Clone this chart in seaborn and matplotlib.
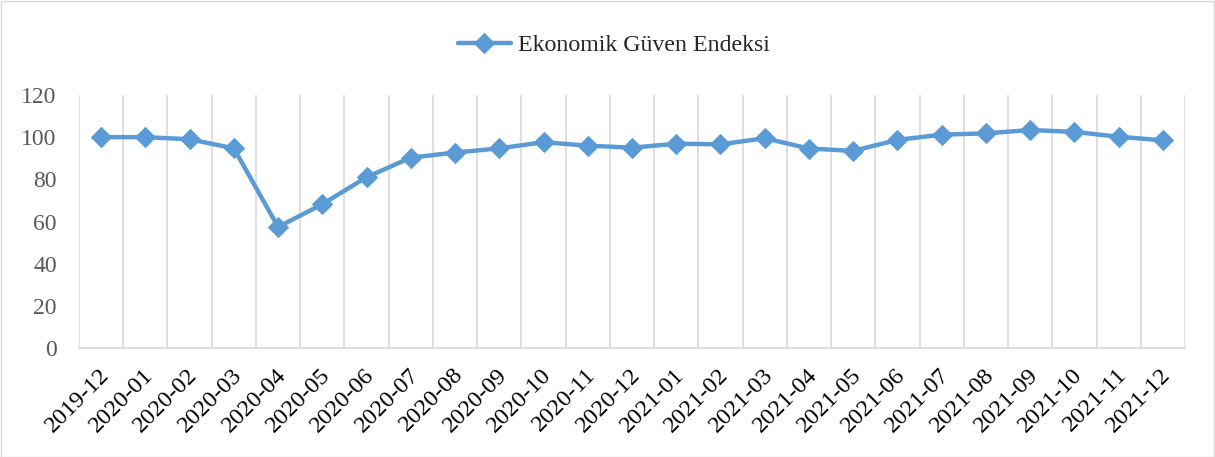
import matplotlib
matplotlib.use("Agg")
import matplotlib.pyplot as plt
from matplotlib.patches import Rectangle
from matplotlib.ticker import FixedLocator
import seaborn as sns
import pandas as pd

months = ["2019-12", "2020-01", "2020-02", "2020-03", "2020-04", "2020-05", "2020-06",
          "2020-07", "2020-08", "2020-09", "2020-10", "2020-11", "2020-12", "2021-01",
          "2021-02", "2021-03", "2021-04", "2021-05", "2021-06", "2021-07", "2021-08",
          "2021-09", "2021-10", "2021-11", "2021-12"]
values = [100.0, 100.0, 99.0, 94.7, 57.4, 68.2, 81.0, 90.3, 92.7, 94.7, 97.6, 96.0,
          95.0, 96.9, 96.6, 99.5, 94.6, 93.5, 98.7, 101.2, 101.8, 103.4, 102.5, 100.2, 98.5]
series_name = "Ekonomik Güven Endeksi"
yticks = [0, 20, 40, 60, 80, 100, 120]

sns.set_style("white")
plt.rcParams["font.family"] = ["Liberation Serif", "DejaVu Serif"]

df = pd.DataFrame({"month": months, "value": values, "series": series_name})

fig = plt.figure(figsize=(12.15, 4.57), dpi=100)
ax = fig.add_axes([79 / 1215, 1 - 348 / 457, (1185 - 79) / 1215, (348 - 95) / 457])

color = "#5B9BD5"
sns.lineplot(data=df, x="month", y="value", hue="series", palette=[color], ax=ax,
             marker="D", markersize=10, linewidth=3.2, markeredgecolor=color, sort=False)

n = len(months)
ax.set_xlim(-0.5, n - 0.5)
ax.set_ylim(0, 120)
ax.set_yticks(yticks)
ax.set_yticklabels([str(v) for v in yticks], fontsize=17, color="#595959")
# label anchors sit slightly right of each category centre (as in the Excel original)
ax.set_xticks([i + 0.11 for i in range(n)])
ax.set_xticklabels(months, rotation=45, ha="right", va="center", rotation_mode="anchor",
                   fontsize=17.5, color="black")
ax.xaxis.set_minor_locator(FixedLocator([i - 0.5 for i in range(n + 1)]))
ax.grid(False)
ax.grid(True, which="minor", axis="x", color="#d9d9d9", linewidth=1.2)
ax.tick_params(axis="both", which="both", length=0)
ax.tick_params(axis="y", pad=16)
ax.tick_params(axis="x", pad=17)
ax.set_xlabel("")
ax.set_ylabel("")
for s in ["left", "right", "top"]:
    ax.spines[s].set_visible(False)
ax.spines["bottom"].set_color("#d9d9d9")
ax.spines["bottom"].set_linewidth(1.2)

handles, labels = ax.get_legend_handles_labels()
ax.legend(handles, labels, loc="center", bbox_to_anchor=(614 / 1215, 1 - 45 / 457),
          bbox_transform=fig.transFigure, frameon=False, fontsize=17.2,
          handlelength=2.2, handletextpad=0.3, markerscale=1.0)

fig.patches.append(Rectangle((0.5 / 1215, 0.5 / 457), 1 - 1.5 / 1215, 1 - 1.5 / 457,
                             transform=fig.transFigure, fill=False,
                             edgecolor="#d9d9d9", linewidth=1.0))

fig.savefig("out.png", dpi=100)
